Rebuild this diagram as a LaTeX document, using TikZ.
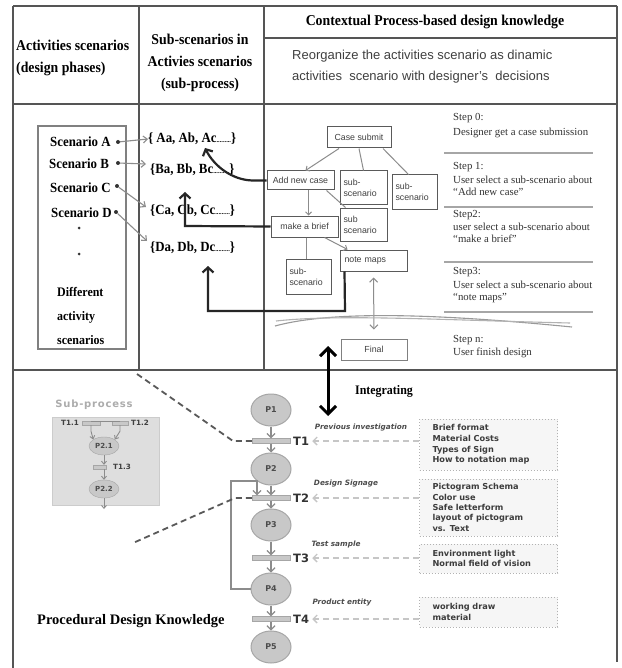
\documentclass[tikz,border=0pt]{standalone}
\usepackage{fontspec}
\setmainfont{Liberation Serif}
\setsansfont{Liberation Sans}
\newfontfamily\condfont[FakeStretch=0.92]{Liberation Serif}
\newfontfamily\petrifont{DejaVu Sans}
\newfontfamily\spacedfont[LetterSpace=8]{DejaVu Sans}
\usetikzlibrary{arrows.meta,shapes.geometric,calc}

\definecolor{framec}{HTML}{555555}
\definecolor{boxc}{HTML}{5A5A5A}
\definecolor{arrowc}{HTML}{8C8C8C}
\definecolor{placefill}{HTML}{C8C8C8}
\definecolor{placeline}{HTML}{A6A6A6}
\definecolor{kfill}{HTML}{F6F6F6}
\definecolor{ktext}{HTML}{3C3C3C}
\definecolor{subfill}{HTML}{DEDEDE}

\tikzset{
  frame/.style={draw=framec, line width=1.6},
  hdr/.style={font=\condfont\bfseries\fontsize{15}{22}\selectfont, align=left, inner sep=0},
  scen/.style={font=\condfont\bfseries\fontsize{14}{16}\selectfont, inner sep=0},
  setf/.style={font=\condfont\bfseries\fontsize{14}{16}\selectfont, inner sep=0},
  bulletdot/.style={circle, fill=black!80, inner sep=0, minimum size=4},
  garrow/.style={draw=arrowc, line width=1.1, -{Straight Barb[length=4pt,width=7pt]}},
  fbox/.style={draw=boxc, line width=1, fill=white, inner sep=2,
    font=\sffamily\fontsize{8.8}{11}\selectfont, text=black!75},
  fline/.style={draw=arrowc, line width=1},
  farrow/.style={draw=arrowc, line width=1, -{Straight Barb[length=3pt,width=6pt]}},
  blk/.style={draw=black!85, line width=2.2, -{Straight Barb[length=5pt,width=11pt]}},
  steptxt/.style={font=\fontsize{10.8}{12}\selectfont, text=black!80, inner sep=0, anchor=west},
  stepline/.style={draw=gray!70, line width=1.3},
  place/.style={ellipse, draw=placeline, line width=1, fill=placefill, minimum width=40, minimum height=32,
    inner sep=0, font=\petrifont\bfseries\fontsize{8}{8}\selectfont, text=black!70},
  trans/.style={rectangle, draw=placeline, fill=placefill, minimum width=38, minimum height=5, inner sep=0},
  parrow/.style={draw=arrowc, line width=1.2, -{Straight Barb[length=4pt,width=8pt]}},
  tlab/.style={font=\petrifont\bfseries\fontsize{11.5}{12}\selectfont, text=black!80, inner sep=0, anchor=west},
  tdesc/.style={font=\petrifont\bfseries\itshape\fontsize{7.3}{8}\selectfont, text=black!70, inner sep=0},
  dkdash/.style={draw=black!65, line width=1.8, dash pattern=on 6pt off 4pt},
  ldash/.style={draw=gray!45, line width=1.3, dash pattern=on 6pt off 4pt, -{Straight Barb[length=4pt,width=8pt]}},
  kbox/.style={draw=gray!60, dotted, line width=1, fill=kfill, minimum width=131, text width=112,
    inner xsep=13, inner ysep=0, align=left, font=\petrifont\bfseries\fontsize{8.2}{10.8}\selectfont, text=ktext},
  subplace/.style={ellipse, draw=placeline, fill=placefill, minimum width=30, minimum height=18, inner sep=0,
    font=\petrifont\bfseries\fontsize{7}{7}\selectfont, text=black!70},
  subtrans/.style={rectangle, draw=placeline, fill=placefill, minimum height=4, inner sep=0},
  sublab/.style={font=\petrifont\bfseries\fontsize{7.2}{7}\selectfont, text=black!75, inner sep=0},
  sarrow/.style={draw=arrowc, line width=0.9, -{Straight Barb[length=3pt,width=5pt]}}
}

\begin{document}
\begin{tikzpicture}[x=1pt,y=-1pt]
\useasboundingbox (0,0) rectangle (621,668);
\fill[white] (0,0) rectangle (621,668);

% ---- table frame ----
\draw[frame] (13,6) -- (617,6);
\draw[frame] (13,6) -- (13,668);
\draw[frame] (617,6) -- (617,662);
\draw[frame] (13,104) -- (617,104);
\draw[frame] (13,370) -- (617,370);
\draw[frame] (139,6) -- (139,370);
\draw[frame] (264,6) -- (264,370);
\draw[frame] (264,38) -- (617,38);

% ---- header cells ----
\node[hdr, anchor=west] (hdrA) at (16,58) {Activities scenarios\\(design phases)};
\node[hdr, align=center] (hdrB) at (200,63) {Sub-scenarios in\\Activies scenarios\\(sub-process)};
\node[hdr, align=center] (hdrC) at (435,22) {Contextual Process-based design knowledge};
\node[font=\sffamily\fontsize{13}{21}\selectfont, text=black!75, align=left, inner sep=0, anchor=west]
  (reorg) at (292,67) {Reorganize the activities scenario as dinamic\\activities~~scenario with designer's~~decisions};

% ---- activity scenarios ----
\node[draw=gray, line width=1.3, minimum width=88, minimum height=223, inner sep=0] (scenbox) at (82,237.5) {};
\node[scen, anchor=west] (sa) at (50,142) {Scenario A};
\node[scen, anchor=west] (sb) at (49,164) {Scenario B};
\node[scen, anchor=west] (sc) at (50,188) {Scenario C};
\node[scen, anchor=west] (sd) at (51,213) {Scenario D};
\node[bulletdot] (da) at (118,142) {};
\node[bulletdot] (db) at (118,163) {};
\node[bulletdot] (dc) at (117,186) {};
\node[bulletdot] (dd) at (116,212) {};
\node[bulletdot, minimum size=3] (v1) at (79,228) {};
\node[bulletdot, minimum size=3] (v2) at (79,254) {};
\node[scen, anchor=west, align=left, font=\condfont\bfseries\fontsize{13}{24}\selectfont] (diff) at (57,316)
  {Different\\activity\\scenarios};

% ---- sub-scenario sets ----
\node[setf, anchor=west] (setA) at (148,139) {\{ Aa, Ab, Ac{\fontsize{7}{7}\selectfont.........}\}};
\node[setf, anchor=west] (setB) at (150,170) {\{Ba, Bb, Bc{\fontsize{7}{7}\selectfont..........}\}};
\node[setf, anchor=west] (setC) at (150,211) {\{Ca, Cb, Cc{\fontsize{7}{7}\selectfont.........}\}};
\node[setf, anchor=west] (setD) at (150,248) {\{Da, Db, Dc{\fontsize{7}{7}\selectfont.........}\}};
\draw[garrow] (da) -- (setA.west);
\draw[garrow] (db) -- (146,164);
\draw[garrow] (dc) -- (146,207);
\draw[garrow] (dd) -- (147,241);

% ---- dynamic scenario flow ----
\node[fbox, minimum width=64, minimum height=21] (case) at (359,137.5) {Case submit};
\node[fbox, minimum width=67, minimum height=19] (addnew) at (300.5,180.5) {Add new case};
\node[fbox, minimum width=47, minimum height=34, align=left, text width=40] (subA) at (363.5,188) {sub-\\scenario};
\node[fbox, minimum width=45, minimum height=34, align=left, text width=38] (subB) at (414.5,192) {sub-\\scenario};
\node[fbox, minimum width=47, minimum height=33, align=left, text width=40] (subC) at (363.5,224.5) {sub\\scenario};
\node[fbox, minimum width=67, minimum height=21] (brief) at (304.5,226.5) {make a brief};
\node[fbox, minimum width=67, minimum height=21, align=left, text width=58] (note) at (373.5,260.5) {note maps};
\node[fbox, minimum width=45, minimum height=35, align=left, text width=38] (subD) at (308.5,276.5) {sub-\\scenario};
\node[fbox, minimum width=66, minimum height=21, draw=gray] (final) at (374,349.5) {Final};

\draw[farrow] ([xshift=-20pt]case.south) -- ([xshift=5pt]addnew.north);
\draw[fline] (case.south) -- (subA.north);
\draw[fline] ([xshift=24pt]case.south) -- ([xshift=-6pt]subB.north);
\draw[farrow] ([xshift=8pt]addnew.south) -- ([xshift=4pt]brief.north);
\draw[fline] ([xshift=26pt]addnew.south) -- ([xshift=-18pt]subC.north);
\draw[fline] ([xshift=2pt]brief.south) -- ([xshift=-2pt]subD.north);
\draw[farrow] ([xshift=20pt]brief.south) -- ([xshift=-26pt]note.north);
\draw[draw=arrowc, line width=1, {Straight Barb[length=4pt,width=8pt]}-{Straight Barb[length=4pt,width=8pt]},
  shorten <=6pt, shorten >=9pt] (note.south) -- (final.north);

% break line across the steps
\draw[draw=gray!80, line width=1.1] (275,326) .. controls (330,311) and (430,313) .. (572,327);
\draw[draw=gray!60, line width=1.1] (276,321) .. controls (340,314) and (440,320) .. (570,323);

% black return arrows
\coordinate (aTip) at (205,148);
\coordinate (cTip) at (185,192);
\coordinate (dTip) at (208,266);
\draw[blk] (addnew.west) -- ++(-14,0) .. controls (232,180) and (214,166) .. (aTip);
\draw[blk] (brief.west) -- (185,226) -- (cTip);
\draw[blk] ([xshift=5pt]note.south west) -- (345,311) -- (208,311) -- (dTip);

% ---- steps ----
\node[steptxt] (s0) at (453,118) {Step 0:};
\node[steptxt] (s0b) at (453,133) {Designer get a case submission};
\draw[stepline] (444,153) -- (593,153);
\node[steptxt] (s1) at (453,167) {Step 1:};
\node[steptxt] (s1b) at (453,180) {User select a sub-scenario about};
\node[steptxt] (s1c) at (453,192) {``Add new case''};
\draw[stepline] (444,207) -- (593,207);
\node[steptxt] (s2) at (453,215) {Step2:};
\node[steptxt] (s2b) at (453,227) {user select a sub-scenario about};
\node[steptxt] (s2c) at (453,239) {``make a brief''};
\draw[stepline] (444,262) -- (593,262);
\node[steptxt] (s3) at (453,272) {Step3:};
\node[steptxt] (s3b) at (453,285) {User select a sub-scenario about};
\node[steptxt] (s3c) at (453,298) {``note maps''};
\draw[stepline] (444,312) -- (593,312);
\node[steptxt] (sn) at (453,340) {Step n:};
\node[steptxt] (snb) at (453,353) {User finish design};

% ---- integrating ----
\coordinate (iTop) at (328,346);
\coordinate (iBot) at (328,416);
\draw[line width=3, {Straight Barb[length=8pt,width=16pt]}-{Straight Barb[length=8pt,width=16pt]}] (iTop) -- (iBot);
\node[font=\condfont\bfseries\fontsize{13}{14}\selectfont, inner sep=0] (integ) at (384,391) {Integrating};

% ---- Petri net ----
\node[place] (p1) at (271,410) {P1};
\node[trans] (t1) at (271,441) {};
\node[place] (p2) at (271,469) {P2};
\node[trans] (t2) at (271,498) {};
\node[place] (p3) at (271,525) {P3};
\node[trans] (t3) at (271,558) {};
\node[place] (p4) at (271,589) {P4};
\node[trans] (t4) at (271,619) {};
\node[place] (p5) at (271,647) {P5};
\draw[parrow] (p1) -- (t1);
\draw[parrow] (t1) -- (p2);
\draw[parrow] (p2) -- (t2);
\draw[parrow] (t2) -- (p3);
\draw[parrow] (p3) -- (t3);
\draw[parrow] (t3) -- (p4);
\draw[parrow] (p4) -- (t4);
\draw[parrow] (t4) -- (p5);
\draw[parrow] (p4.west) -- (231,589) -- (231,481) -- (257,481) -- ([xshift=-14pt]t2.north);

\node[tlab] (lt1) at (293,441) {T1};
\node[tlab] (lt2) at (293,498) {T2};
\node[tlab] (lt3) at (293,558) {T3};
\node[tlab] (lt4) at (293,619) {T4};
\node[tdesc] (d1) at (361,428) {Previous investigation};
\node[tdesc] (d2) at (346,484) {Design Signage};
\node[tdesc] (d3) at (336,544) {Test sample};
\node[tdesc] (d4) at (342,603) {Product entity};

\draw[dkdash] (137,374) -- (233,441) -- (t1.west);
\draw[dkdash] (t2.west) -- (235,498) -- (133,543);

% ---- design knowledge boxes ----
\node[kbox, minimum height=51] (k1) at (488.5,444.5) {Brief format\\Material Costs\\Types of Sign\\How to notation map};
\node[kbox, minimum height=57, font=\petrifont\bfseries\fontsize{8.2}{10.3}\selectfont] (k2) at (488.5,507.5)
  {Pictogram Schema\\Color use\\Safe letterform\\layout of pictogram\\vs. Text};
\node[kbox, minimum height=29] (k3) at (488.5,558.5) {Environment light\\Normal field of vision};
\node[kbox, minimum height=30] (k4) at (488.5,612) {working draw\\material};
\draw[ldash, shorten >=3pt] (k1.west |- lt1) -- (lt1.east);
\draw[ldash, shorten >=3pt] (k2.west |- lt2) -- (lt2.east);
\draw[ldash, shorten >=3pt] (k3.west |- lt3) -- (lt3.east);
\draw[ldash, shorten >=3pt] (k4.west |- lt4) -- (lt4.east);

% ---- sub-process detail ----
\node[font=\spacedfont\bfseries\fontsize{10}{10}\selectfont, text=gray!65, inner sep=0] (subtitle) at (94,405) {Sub-process};
\node[fill=subfill, draw=gray!40, minimum width=107, minimum height=88, inner sep=0] (subbox) at (105.5,461) {};
\node[subtrans, minimum width=18] (t11) at (91,423) {};
\node[subtrans, minimum width=16] (t12) at (120,423) {};
\node[subplace] (p21) at (104,446) {P2.1};
\node[subtrans, minimum width=13] (t13) at (100,467) {};
\node[subplace] (p22) at (104,489) {P2.2};
\coordinate (subEnd) at (104,509);
\node[sublab, anchor=east] (lt11) at (79,423) {T1.1};
\node[sublab, anchor=west] (lt12) at (131,423) {T1.2};
\node[sublab, anchor=west] (lt13) at (113,467) {T1.3};
\draw[sarrow] (t11.south) -- ++(0,6) -- (p21.north west);
\draw[sarrow] (t12.south) -- ++(0,6) -- (p21.north east);
\draw[draw=arrowc, line width=0.9] ([yshift=4pt]t11.south) -- ++(22,0);
\draw[draw=arrowc, line width=0.9] ([yshift=4pt]t12.south) -- ++(-20,0);
\draw[sarrow] (p21) -- (p21 |- t13.north);
\draw[sarrow] (p21 |- t13.south) -- (p22);
\draw[sarrow] (p22) -- (subEnd);

\node[font=\rmfamily\bfseries\fontsize{14.5}{16}\selectfont, inner sep=0, anchor=west] (proc) at (37,621) {Procedural Design Knowledge};

\end{tikzpicture}
\end{document}
